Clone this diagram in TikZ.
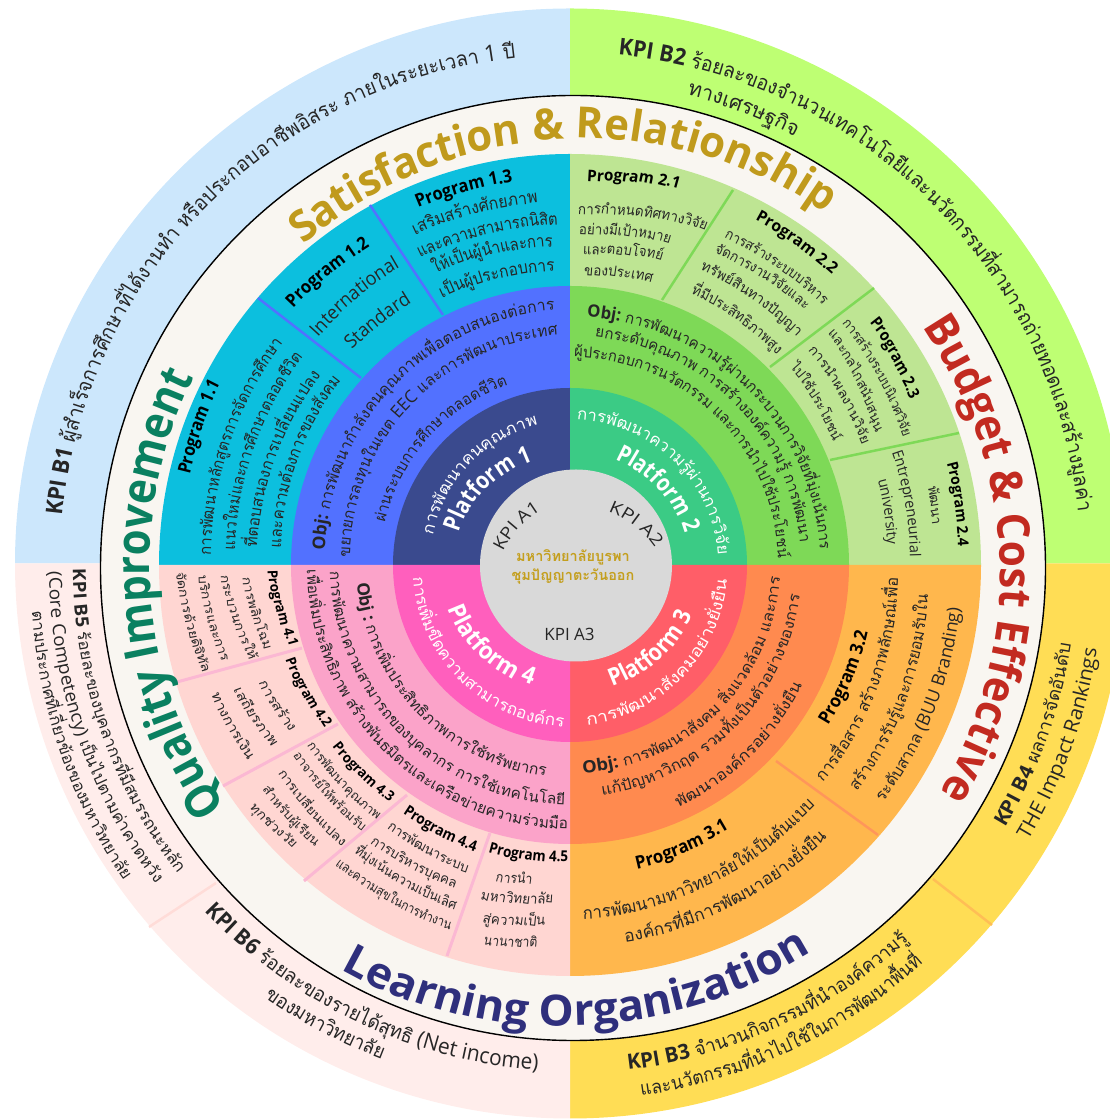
\documentclass[tikz,border=0pt]{standalone}
\usepackage{fontspec}
\setmainfont{Open Sans}
\newfontfamily\thaifont[Script=Thai]{Loma}
\definecolor{kpiblue}{HTML}{CCE7FC}
\definecolor{kpigreen}{HTML}{BEFF73}
\definecolor{kpiyellow}{HTML}{FFDD55}
\definecolor{kpipink}{HTML}{FFEDEB}
\definecolor{beige}{HTML}{F9F6F1}
\definecolor{progone}{HTML}{0CBFDE}
\definecolor{progtwo}{HTML}{BEE593}
\definecolor{progthree}{HTML}{FFB74D}
\definecolor{progfour}{HTML}{FFD6D2}
\definecolor{objone}{HTML}{5271FF}
\definecolor{objtwo}{HTML}{7ED957}
\definecolor{objthree}{HTML}{FF8A4F}
\definecolor{objfour}{HTML}{FBA3C9}
\definecolor{platone}{HTML}{3A4A8E}
\definecolor{plattwo}{HTML}{3BCB85}
\definecolor{platthree}{HTML}{FF5E68}
\definecolor{platfour}{HTML}{FF5FBD}
\definecolor{hubgrey}{HTML}{D9D9D9}
\definecolor{hubgold}{HTML}{C49F1E}
\definecolor{inkdark}{HTML}{262626}
\definecolor{satcol}{HTML}{C09A1C}
\definecolor{budcol}{HTML}{C22A20}
\definecolor{learncol}{HTML}{2F2F7C}
\definecolor{qualcol}{HTML}{0A8060}
\definecolor{divfour}{HTML}{FBB8D3}
\definecolor{divsix}{HTML}{FFDCD8}
\definecolor{divthree}{HTML}{FF965A}
\definecolor{divyellow}{HTML}{FFBE55}
\newcommand\pxy[2]{(#1,1119-#2)}
\newcommand\sect[6]{\fill[#1] (#2,1119-#3) -- ([shift={(#2,1119-#3)}]#4:#6) arc (#4:#5:#6) -- cycle;}
\newcount\rsn
\tikzset{rsg/.style={anchor=base,inner sep=0pt,outer sep=0pt}}
\newcommand\rsglyph[8]{\global\advance\rsn by 1
  \node[rsg,name=g\the\rsn,rotate=#3,xscale=#4,text=#5] at (#1,#2) {\rsshow{#6}{#7}{#8}};}
\newcommand\rscx{570}
\newcommand\rscy{565}
\newcommand\rscenter[2]{\renewcommand\rscx{#1}\renewcommand\rscy{#2}}
\makeatletter
\newcommand\rsfixfont{\let\selectfont\pgf@selectfontorig}
\makeatother
\ExplSyntaxOn
\seq_new:N \l_rs_seq
\tl_new:N \l_rs_tl
\tl_new:N \l_rs_cur_tl
\tl_new:N \l_rs_size_tl
\tl_new:N \l_rs_col_tl
\tl_new:N \l_rs_x_tl
\tl_new:N \l_rs_y_tl
\tl_new:N \l_rs_r_tl
\tl_new:N \l_rs_f_tl
\tl_new:N \l_rs_style_tl
\int_new:N \l_rs_bold_int
\int_new:N \l_rs_thai_int
\box_new:N \l_rs_box
\fp_new:N \l_rs_sum_fp
\fp_new:N \l_rs_pos_fp
\fp_new:N \l_rs_w_fp
\fp_new:N \l_rs_ta_fp
\fp_new:N \l_rs_tb_fp
\fp_new:N \l_rs_ra_fp
\fp_new:N \l_rs_rb_fp
\fp_new:N \l_rs_a_fp
\fp_new:N \l_rs_rad_fp
\cs_new_protected:Npn \rs_show:nnn #1#2#3
 {
  \int_compare:nNnTF {#2} = {1}
   { \fontsize{ \fp_eval:n { round( \l_rs_size_tl * 0.9 , 1 ) } }{\l_rs_size_tl} \thaifont }
   { \fontsize{\l_rs_size_tl}{\l_rs_size_tl} \rmfamily }
  \int_compare:nNnT {#1} = {1} {\bfseries}
  \selectfont
  \tl_if_eq:nnTF {#3} {|} { \kern .27em }
   { \tl_if_eq:nnTF {#3} {+} { \& } {#3} }
 }
\cs_set_eq:NN \rsshow \rs_show:nnn
\cs_new_protected:Npn \rs_flush:
 {
  \tl_if_empty:NF \l_rs_cur_tl
   {
    \seq_put_right:Nx \l_rs_seq
     { {\int_use:N \l_rs_bold_int}{\int_use:N \l_rs_thai_int}{\exp_not:V \l_rs_cur_tl} }
    \tl_clear:N \l_rs_cur_tl
   }
 }
\cs_new_protected:Npn \rs_token:n #1
 {
  \int_set:Nn \l_tmpa_int {`#1}
  \int_compare:nNnTF \l_tmpa_int = {`*}
   { \rs_flush: \int_set:Nn \l_rs_bold_int { 1 - \l_rs_bold_int } }
   {
    \bool_if:nTF
     {
      \int_compare_p:nNn \l_tmpa_int = {"0E31} ||
      ( \int_compare_p:nNn \l_tmpa_int > {"0E32} && \int_compare_p:nNn \l_tmpa_int < {"0E3B} ) ||
      ( \int_compare_p:nNn \l_tmpa_int > {"0E46} && \int_compare_p:nNn \l_tmpa_int < {"0E4F} )
     }
     { \tl_put_right:Nn \l_rs_cur_tl {#1} }
     {
      \rs_flush:
      \bool_if:nTF
       { \int_compare_p:nNn \l_tmpa_int > {"0DFF} && \int_compare_p:nNn \l_tmpa_int < {"0E80} }
       { \int_set:Nn \l_rs_thai_int {1} }
       { \int_set:Nn \l_rs_thai_int {0} }
      \tl_set:Nn \l_rs_cur_tl {#1}
     }
   }
 }
\cs_new_protected:Npn \rs_measure:nnn #1#2#3
 {
  \hbox_set:Nn \l_rs_box { \rsfixfont \rs_show:nnn {#1}{#2}{#3} }
  \fp_add:Nn \l_rs_sum_fp { \dim_to_fp:n { \box_wd:N \l_rs_box } }
 }
\cs_new_protected:Npn \rs_place:nnn #1#2#3
 {
  \hbox_set:Nn \l_rs_box { \rsfixfont \rs_show:nnn {#1}{#2}{#3} }
  \fp_set:Nn \l_rs_w_fp { \dim_to_fp:n { \box_wd:N \l_rs_box } }
  \tl_if_eq:nnF {#3} {|}
   {
    \fp_set:Nn \l_tmpa_fp { ( \l_rs_pos_fp + \l_rs_w_fp / 2 ) / \l_rs_sum_fp }
    \fp_set:Nn \l_rs_a_fp { \l_rs_ta_fp + \l_tmpa_fp * ( \l_rs_tb_fp - \l_rs_ta_fp ) }
    \fp_set:Nn \l_rs_rad_fp { \l_rs_ra_fp + \l_tmpa_fp * ( \l_rs_rb_fp - \l_rs_ra_fp ) }
    \tl_set:Nx \l_rs_x_tl { \fp_eval:n { round( \rscx + \l_rs_rad_fp * cosd( \l_rs_a_fp ) , 3 ) } }
    \tl_set:Nx \l_rs_y_tl { \fp_eval:n { round( 1119 - \rscy + \l_rs_rad_fp * sind( \l_rs_a_fp ) , 3 ) } }
    \str_if_eq:VnTF \l_rs_style_tl {t}
     { \tl_set:Nx \l_rs_r_tl { \fp_eval:n { round( \l_rs_a_fp - 90 , 3 ) } } }
     { \tl_set:Nx \l_rs_r_tl { \fp_eval:n { round( \l_rs_a_fp + 90 , 3 ) } } }
    \rsglyph {\l_rs_x_tl} {\l_rs_y_tl} {\l_rs_r_tl} {\l_rs_f_tl} {\l_rs_col_tl} {#1} {#2} {#3}
   }
  \fp_add:Nn \l_rs_pos_fp { \l_rs_w_fp }
 }
\NewDocumentCommand \rsarc { m m m m m m m m }
 {
  \tl_set:Nn \l_rs_style_tl {#1}
  \tl_set:Nn \l_rs_size_tl {#6}
  \tl_set:Nn \l_rs_col_tl {#7}
  \tl_set:Nn \l_rs_tl {#8}
  \tl_replace_all:Nnn \l_rs_tl {~} {|}
  \seq_clear:N \l_rs_seq
  \tl_clear:N \l_rs_cur_tl
  \int_zero:N \l_rs_bold_int
  \tl_map_inline:Nn \l_rs_tl { \rs_token:n {##1} }
  \rs_flush:
  \fp_zero:N \l_rs_sum_fp
  \seq_map_inline:Nn \l_rs_seq { \rs_measure:nnn ##1 }
  \fp_set:Nn \l_rs_ta_fp { atand( \rscy - (#3) , (#2) - \rscx ) }
  \fp_set:Nn \l_rs_tb_fp { atand( \rscy - (#5) , (#4) - \rscx ) }
  \fp_set:Nn \l_rs_ra_fp { sqrt( ( \rscy - (#3) )^2 + ( (#2) - \rscx )^2 ) }
  \fp_set:Nn \l_rs_rb_fp { sqrt( ( \rscy - (#5) )^2 + ( (#4) - \rscx )^2 ) }
  \str_if_eq:nnTF {#1} {t}
   { \fp_compare:nNnT \l_rs_tb_fp > \l_rs_ta_fp { \fp_sub:Nn \l_rs_tb_fp {360} } }
   { \fp_compare:nNnT \l_rs_tb_fp < \l_rs_ta_fp { \fp_add:Nn \l_rs_tb_fp {360} } }
  \tl_set:Nx \l_rs_f_tl
   { \fp_eval:n { round( ( \l_rs_ra_fp + \l_rs_rb_fp ) / 2 * abs( \l_rs_tb_fp - \l_rs_ta_fp ) * pi / 180 / \l_rs_sum_fp , 4 ) } }
  \fp_zero:N \l_rs_pos_fp
  \seq_map_inline:Nn \l_rs_seq { \rs_place:nnn ##1 }
 }
\ExplSyntaxOff
\begin{document}
\begin{tikzpicture}[x=1pt,y=1pt]
\useasboundingbox (0,0) rectangle (1110,1119);
\clip (0,0) rectangle (1110,1119);
% outer KPI quadrants
\sect{kpiblue}{570}{563.5}{90}{180}{555}
\sect{kpigreen}{570}{563.5}{0}{90}{555}
\sect{kpiyellow}{570}{563.5}{270}{360}{555}
\sect{kpipink}{570}{563.5}{180}{270}{555}
\draw[divyellow,line width=2.5pt] \pxy{992}{925} -- \pxy{933}{879};
\draw[divsix,line width=2.5pt] \pxy{149}{927} -- \pxy{216}{883};
% beige ring
\fill[beige] (573,1119-568) circle (472.5);
\draw[black,line width=1.4pt] (573,1119-568) circle (472.5);
% program ring
\sect{progone}{570}{565}{90}{180}{411}
\sect{progtwo}{570}{565}{0}{90}{411}
\sect{progthree}{570}{565}{270}{360}{411}
\sect{progfour}{570}{565}{180}{270}{411}
\draw[objone,line width=2.5pt] \pxy{370}{205} -- \pxy{443}{315};
\draw[objone,line width=2.5pt] \pxy{258}{298} -- \pxy{361}{378};
\draw[objtwo,line width=2.5pt] \pxy{733}{190} -- \pxy{662}{300};
\draw[objtwo,line width=2.5pt] \pxy{874}{288} -- \pxy{770}{367};
\draw[objtwo,line width=2.5pt] \pxy{959}{433} -- \pxy{830}{460};
\draw[divthree,line width=2.5pt] \pxy{878}{835} -- \pxy{776}{761};
\draw[divfour,line width=3pt] \pxy{177}{682} -- \pxy{302}{648};
\draw[divfour,line width=3pt] \pxy{223}{786} -- \pxy{338}{724};
\draw[divfour,line width=3pt] \pxy{304}{881} -- \pxy{407}{795};
\draw[divfour,line width=3pt] \pxy{447}{956} -- \pxy{490}{833};
% objective ring
\sect{objone}{570}{565}{90}{180}{279}
\sect{objtwo}{570}{565}{0}{90}{279}
\sect{objthree}{570}{565}{270}{360}{279}
\sect{objfour}{570}{565}{180}{270}{279}
% platform ring
\sect{platone}{570}{565}{90}{180}{177}
\sect{plattwo}{570}{565}{0}{90}{177}
\sect{platthree}{570}{565}{270}{360}{177}
\sect{platfour}{570}{565}{180}{270}{177}
% hub
\fill[hubgrey] (576,1119-565.5) circle (96);
% KPI texts
\rsarc{t}{62}{516}{516}{58}{23}{inkdark}{*KPI B1* ผู้สำเร็จการศึกษาที่ได้งานทำ หรือประกอบอาชีพอิสระ ภายในระยะเวลา 1 ปี}
\rsarc{t}{618}{55}{1078}{512}{23}{inkdark}{*KPI B2* ร้อยละของจำนวนเทคโนโลยีและนวัตกรรมที่สามารถถ่ายทอดและสร้างมูลค่า}
\rsarc{t}{687}{95}{795}{137}{23}{inkdark}{ทางเศรษฐกิจ}
\rsarc{b}{628}{1070}{909}{940}{21}{inkdark}{*KPI B3* จำนวนกิจกรรมที่นำองค์ความรู้}
\rsarc{b}{641}{1096}{923}{963}{21}{inkdark}{และนวัตกรรมที่นำไปใช้ในการพัฒนาพื้นที่}
\rsarc{b}{1005}{828}{1071}{644}{20}{inkdark}{*KPI B4* ผลการจัดอันดับ}
\rsarc{b}{1028}{840}{1097}{649}{20}{inkdark}{THE Impact Rankings}
\rsarc{b}{73}{569}{178}{874}{18}{inkdark}{*KPI B5* ร้อยละของบุคลากรที่มีสมรรถนะหลัก}
\rsarc{b}{49}{572}{156}{884}{18}{inkdark}{(Core Competency) เป็นไปตามค่าคาดหวัง}
\rsarc{b}{32}{612}{124}{881}{18}{inkdark}{ตามประกาศที่เกี่ยวข้องของมหาวิทยาลัย}
\rsarc{b}{205}{911}{538}{1070}{22}{inkdark}{*KPI B6*  ร้อยละของรายได้สุทธิ (Net income)}
\rsarc{b}{264}{997}{382}{1059}{22}{inkdark}{ของมหาวิทยาลัย}
% headings
\rsarc{t}{304}{245}{826}{213}{43}{satcol}{*Satisfaction + Relationship*}
\rsarc{t}{922}{327}{940}{793}{45}{budcol}{*Budget + Cost Effective*}
\rsarc{b}{340}{970}{811}{952}{43}{learncol}{*Learning Organization*}
\rsarc{t}{226}{806}{194}{377}{47}{qualcol}{*Quality Improvement*}
% Program 1.x
\rsarc{t}{418}{208}{513}{182}{18}{black}{*Program 1.3*}
\rsarc{t}{415}{235}{538}{203}{19}{inkdark}{เสริมสร้างศักยภาพ}
\rsarc{t}{420}{258}{558}{225}{19}{inkdark}{และความสามารถนิสิต}
\rsarc{t}{435}{273}{553}{247}{19}{inkdark}{ให้เป็นผู้นำและการ}
\rsarc{t}{442}{298}{555}{271}{19}{inkdark}{เป็นผู้ประกอบการ}
\rsarc{t}{293}{308}{370}{247}{18}{black}{*Program 1.2*}
\rsarc{t}{318}{338}{400}{267}{19}{inkdark}{International}
\rsarc{t}{352}{350}{412}{303}{19}{inkdark}{Standard}
\rsarc{t}{190}{475}{220}{383}{18}{black}{*Program 1.1*}
\rsarc{t}{211}{555}{283}{343}{18}{inkdark}{การพัฒนาหลักสูตรการจัดการศึกษา}
\rsarc{t}{235}{550}{303}{357}{18}{inkdark}{แนวใหม่และการศึกษาตลอดชีวิต}
\rsarc{t}{257}{548}{321}{375}{18}{inkdark}{ที่ตอบสนองการเปลี่ยนแปลง}
\rsarc{t}{281}{548}{341}{380}{18}{inkdark}{และความต้องการของสังคม}
% Obj 1, Platform 1
\rsarc{t}{325}{550}{555}{310}{17.5}{inkdark}{*Obj:* การพัฒนากำลังคนคุณภาพเพื่อตอบสนองต่อการ}
\rsarc{t}{350}{557}{558}{335}{17.5}{inkdark}{ขยายการลงทุนในเขต EEC และการพัฒนาประเทศ}
\rsarc{t}{385}{523}{508}{385}{17.5}{inkdark}{ผ่านระบบการศึกษาตลอดชีวิต}
\rsarc{t}{433}{535}{538}{425}{18}{white}{การพัฒนาคนคุณภาพ}
\rsarc{t}{458}{533}{533}{462}{24}{white}{*Platform 1*}
% Program 2.x
\rsarc{t}{587}{182}{679}{188}{16}{black}{*Program 2.1*}
\rsarc{t}{578}{215}{706}{230}{16}{inkdark}{การกำหนดทิศทางวิจัย}
\rsarc{t}{579}{235}{670}{243}{16}{inkdark}{อย่างมีเป้าหมาย}
\rsarc{t}{583}{255}{662}{260}{16}{inkdark}{และตอบโจทย์}
\rsarc{t}{584}{276}{652}{282}{16}{inkdark}{ของประเทศ}
\rsarc{t}{755}{220}{832}{275}{16}{black}{*Program 2.2*}
\rsarc{t}{724}{238}{823}{305}{16}{inkdark}{การสร้างระบบบริหาร}
\rsarc{t}{714}{253}{805}{310}{16}{inkdark}{จัดการงานวิจัยและ}
\rsarc{t}{700}{270}{797}{337}{16}{inkdark}{ทรัพย์สินทางปัญญา}
\rsarc{t}{691}{293}{777}{355}{16}{inkdark}{ที่มีประสิทธิภาพสูง}
\rsarc{t}{870}{322}{910}{400}{16}{black}{*Program 2.3*}
\rsarc{t}{842}{323}{903}{438}{15}{inkdark}{การสร้างระบบนิเวศวิจัย}
\rsarc{t}{828}{333}{875}{433}{15}{inkdark}{และกลไกสนับสนุน}
\rsarc{t}{808}{350}{862}{445}{15}{inkdark}{การนำผลงานวิจัย}
\rsarc{t}{790}{367}{833}{442}{15}{inkdark}{ไปใช้ประโยชน์}
\rsarc{t}{947}{463}{958}{547}{15}{black}{*Program 2.4*}
\rsarc{t}{928}{487}{932}{525}{15}{inkdark}{พัฒนา}
\rsarc{t}{892}{452}{910}{557}{15}{inkdark}{Entrepreneurial}
\rsarc{t}{878}{480}{887}{545}{15}{inkdark}{university}
% Obj 2, Platform 2
\rsarc{t}{587}{317}{820}{550}{17}{inkdark}{*Obj:* การพัฒนาความรู้ผ่านกระบวนการวิจัยที่มุ่งเน้นการ}
\rsarc{t}{595}{337}{800}{543}{17}{inkdark}{ยกระดับคุณภาพ การสร้างองค์ความรู้ การพัฒนา}
\rsarc{t}{574}{357}{778}{558}{17}{inkdark}{ผู้ประกอบการนวัตกรรม และการนำไปใช้ประโยชน์}
\rsarc{t}{577}{420}{718}{555}{18}{white}{การพัฒนาความรู้ผ่านการวิจัย}
\rsarc{t}{615}{460}{685}{533}{24}{white}{*Platform 2*}
% Platform 3, Obj 3
\rsarc{b}{612}{686}{693}{615}{24}{white}{*Platform 3*}
\rsarc{b}{587}{725}{727}{580}{18}{white}{การพัฒนาสังคมอย่างยั่งยืน}
\rsarc{b}{583}{773}{780}{577}{17}{inkdark}{*Obj:* การพัฒนาสังคม สิ่งแวดล้อม และการ}
\rsarc{b}{602}{795}{800}{595}{17}{inkdark}{แก้ปัญหาวิกฤต รวมทั้งเป็นตัวอย่างของการ}
\rsarc{b}{678}{808}{802}{685}{17}{inkdark}{พัฒนาองค์กรอย่างยั่งยืน}
% Program 3.x
\rsarc{b}{637}{870}{729}{828}{18}{black}{*Program 3.1*}
\rsarc{b}{583}{920}{815}{805}{19}{inkdark}{การพัฒนามหาวิทยาลัยให้เป็นต้นแบบ}
\rsarc{b}{625}{943}{827}{837}{19}{inkdark}{องค์กรที่มีการพัฒนาอย่างยั่งยืน}
\rsarc{b}{828}{725}{868}{632}{18}{black}{*Program 3.2*}
\rsarc{b}{823}{783}{898}{578}{18}{inkdark}{การสื่อสาร สร้างภาพลักษณ์เพื่อ}
\rsarc{b}{857}{792}{928}{595}{18}{inkdark}{สร้างการรับรู้และการยอมรับใน}
\rsarc{b}{883}{802}{960}{608}{18}{inkdark}{ระดับสากล (BUU Branding)}
% Platform 4, Obj 4
\rsarc{b}{447}{608}{532}{685}{24}{white}{*Platform 4*}
\rsarc{b}{413}{578}{564}{727}{18}{white}{การเพิ่มขีดความสามารถองค์กร}
\rsarc{b}{357}{583}{546}{776}{17}{inkdark}{*Obj :* การเพิ่มประสิทธิภาพการใช้ทรัพยากร}
\rsarc{b}{330}{572}{565}{805}{17}{inkdark}{การพัฒนาความสามารถของบุคลากร การใช้เทคโนโลยี}
\rsarc{b}{307}{570}{568}{829}{17}{inkdark}{เพื่อเพิ่มประสิทธิภาพ สร้างพันธมิตรและเครือข่ายความร่วมมือ}
% Program 4.x
\rsarc{b}{488}{853}{568}{862}{15}{black}{*Program 4.5*}
\rsarc{b}{495}{882}{532}{883}{15.5}{inkdark}{การนำ}
\rsarc{b}{480}{900}{553}{903}{15.5}{inkdark}{มหาวิทยาลัย}
\rsarc{b}{482}{923}{545}{925}{15.5}{inkdark}{สู่ความเป็น}
\rsarc{b}{483}{945}{537}{947}{15.5}{inkdark}{นานาชาติ}
\rsarc{b}{403}{813}{475}{852}{15}{black}{*Program 4.4*}
\rsarc{b}{387}{828}{467}{873}{15}{inkdark}{การพัฒนาระบบ}
\rsarc{b}{370}{843}{455}{888}{15}{inkdark}{การบริหารบุคคล}
\rsarc{b}{354}{852}{455}{910}{15}{inkdark}{ที่มุ่งเน้นความเป็นเลิศ}
\rsarc{b}{335}{865}{450}{930}{15}{inkdark}{และความสุขในการทำงาน}
\rsarc{b}{332}{747}{390}{802}{14}{black}{*Program 4.3*}
\rsarc{b}{307}{745}{377}{820}{14}{inkdark}{การพัฒนาคุณภาพ}
\rsarc{b}{293}{755}{362}{832}{14}{inkdark}{อาจารย์ให้พร้อมรับ}
\rsarc{b}{278}{773}{342}{847}{14}{inkdark}{การเปลี่ยนแปลง}
\rsarc{b}{262}{790}{315}{847}{14}{inkdark}{สำหรับผู้เรียน}
\rsarc{b}{249}{808}{293}{848}{14}{inkdark}{ทุกช่วงวัย}
\rsarc{b}{285}{660}{325}{728}{14}{black}{*Program 4.2*}
\rsarc{b}{258}{683}{290}{732}{15}{inkdark}{การสร้าง}
\rsarc{b}{233}{690}{272}{747}{15}{inkdark}{เสถียรภาพ}
\rsarc{b}{211}{695}{248}{760}{15}{inkdark}{ทางการเงิน}
\rsarc{b}{267}{570}{290}{647}{14}{black}{*Program 4.1*}
\rsarc{b}{242}{577}{265}{650}{14}{inkdark}{การพลิกโฉม}
\rsarc{b}{220}{575}{250}{660}{14}{inkdark}{กระบวนการให้}
\rsarc{b}{198}{575}{222}{662}{14}{inkdark}{บริการและการ}
\rsarc{b}{176}{572}{203}{673}{14}{inkdark}{จัดการด้วยดิจิทัล}
% hub labels
\rscenter{589}{591}
\rsarc{t}{503}{552}{541}{510}{17}{inkdark}{KPI A1}
\rscenter{576}{601}
\rsarc{t}{608}{512}{655}{548}{17}{inkdark}{KPI A2}
\node[rsg,text=inkdark] (kpiathree) at \pxy{569.5}{641} {\fontsize{17}{17}\selectfont KPI A3};
\node[rsg,text=hubgold] (hubone) at \pxy{573}{562} {\thaifont\bfseries\fontsize{14.5}{14.5}\selectfont มหาวิทยาลัยบูรพา};
\node[rsg,text=hubgold] (hubtwo) at \pxy{573}{581} {\thaifont\bfseries\fontsize{14.5}{14.5}\selectfont ชุมปัญญาตะวันออก};
\end{tikzpicture}
\end{document}
